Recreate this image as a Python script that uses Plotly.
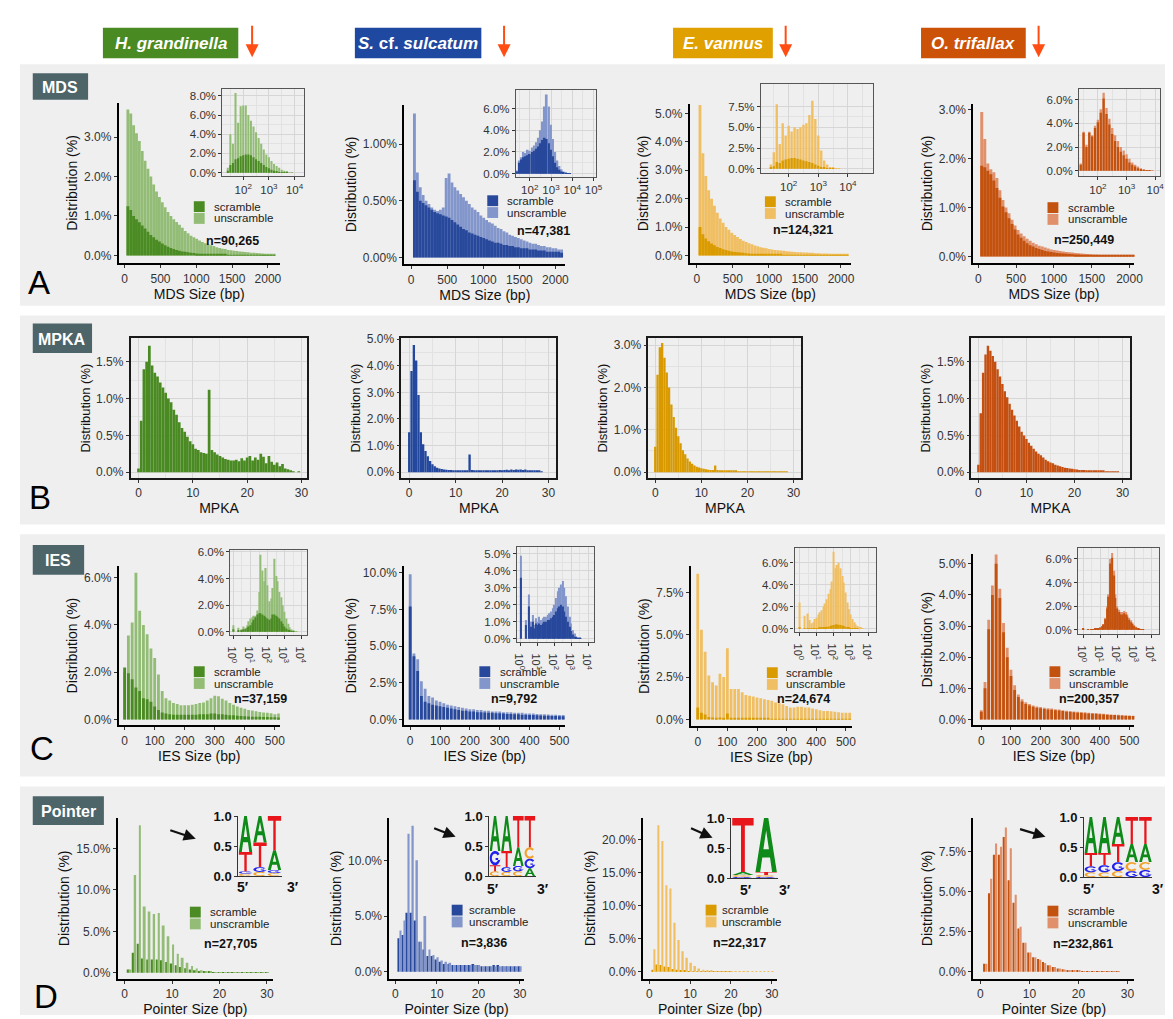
import numpy as np
import plotly.graph_objects as go

W, H = 1173, 1019
FONT = "Liberation Sans, Arial, sans-serif"

# ------------------------------------------------------------------ data
SPECIES = ["<i>H. grandinella</i>", "<i>S.</i> cf. <i>sulcatum</i>", "<i>E. vannus</i>", "<i>O. trifallax</i>"]
HEADER_COLORS = ["#4a8a22", "#1f48a0", "#e0a000", "#cc5208"]
DARK = ["#4b8b23", "#27489b", "#d99b00", "#c4520f"]
LIGHT = ["#93bd77", "#8396cb", "#f0bf63", "#e0906b"]
SOLID = ["#4a8a22", "#22479c", "#d89a00", "#c44f10"]

N_MDS = ["n=90,265", "n=47,381", "n=124,321", "n=250,449"]
N_IES = ["n=37,159", "n=9,792", "n=24,674", "n=200,357"]
N_PTR = ["n=27,705", "n=3,836", "n=22,317", "n=232,861"]

# MDS size histograms (bins of 40 bp starting at 45 bp), % of MDSs
MDS_BIN_START, MDS_BIN_W, MDS_NBINS = 45, 40, 52
MDS_UNS_HG = [3.7,3.6,3.3,3.1,2.9,2.65,2.4,2.2,2.0,1.8,1.62,1.48,1.35,1.22,1.1,1.0,0.92,0.85,0.78,0.7,
              0.62,0.56,0.5,0.46,0.42,0.38,0.34,0.31,0.28,0.26,0.24,0.21,0.19,0.17,0.16,0.14,0.13,0.12,0.11,0.1,
              0.09,0.085,0.08,0.07,0.065,0.06,0.055,0.05,0.045,0.04,0.04,0.035]
MDS_SCR_HG = [1.25,1.15,1.0,0.92,0.84,0.76,0.68,0.6,0.52,0.46,0.4,0.35,0.3,0.26,0.22,0.19,0.16,0.14,0.12,0.1,
              0.09,0.08,0.07,0.06,0.05,0.045,0.04,0.035,0.03,0.03,0.025,0.025,0.02,0.02,0.02,0.015,0.015,0.015,0.01,0.01,
              0.01,0.01,0.01,0.01,0.008,0.008,0.008,0.006,0.006,0.005,0.005,0.005]
MDS_UNS_SC = [1.27,0.75,0.62,0.55,0.5,0.47,0.44,0.42,0.41,0.42,0.44,0.7,0.74,0.66,0.62,0.59,0.56,0.53,0.5,0.47,
              0.44,0.42,0.4,0.37,0.35,0.33,0.31,0.3,0.28,0.26,0.25,0.23,0.22,0.2,0.19,0.18,0.17,0.16,0.15,0.14,
              0.13,0.12,0.12,0.11,0.1,0.1,0.09,0.09,0.08,0.08,0.07,0.07]
MDS_SCR_SC = [0.68,0.58,0.5,0.48,0.46,0.44,0.42,0.4,0.39,0.38,0.37,0.36,0.35,0.33,0.31,0.29,0.27,0.25,0.24,0.22,
              0.21,0.2,0.19,0.18,0.17,0.16,0.15,0.14,0.13,0.13,0.12,0.11,0.11,0.1,0.1,0.09,0.09,0.08,0.08,0.08,
              0.07,0.07,0.07,0.06,0.06,0.06,0.05,0.05,0.05,0.05,0.05,0.04]
MDS_UNS_EV = [5.3,3.6,2.8,2.3,2.0,1.75,1.5,1.3,1.15,1.0,0.9,0.8,0.72,0.65,0.58,0.52,0.47,0.43,0.39,0.35,
              0.32,0.29,0.27,0.25,0.23,0.21,0.19,0.18,0.17,0.16,0.15,0.14,0.13,0.12,0.11,0.11,0.1,0.1,0.09,0.09,
              0.08,0.08,0.07,0.07,0.07,0.06,0.06,0.06,0.05,0.05,0.05,0.05]
MDS_SCR_EV = [1.0,0.75,0.6,0.5,0.42,0.36,0.3,0.26,0.22,0.19,0.16,0.14,0.12,0.11,0.1,0.09,0.08,0.07,0.06,0.055,
              0.05,0.045,0.04,0.04,0.035,0.035,0.03,0.03,0.03,0.025,0.025,0.025,0.02,0.02,0.02,0.02,0.02,0.015,0.015,0.015,
              0.015,0.015,0.01,0.01,0.01,0.01,0.01,0.01,0.01,0.01,0.01,0.01]
MDS_UNS_OT = [2.95,2.4,1.9,1.78,1.72,1.6,1.35,1.15,1.0,0.88,0.75,0.63,0.54,0.47,0.41,0.36,0.32,0.28,0.25,0.22,
              0.2,0.18,0.16,0.14,0.13,0.12,0.11,0.1,0.09,0.085,0.08,0.07,0.065,0.06,0.055,0.05,0.045,0.04,0.04,0.035,
              0.035,0.03,0.03,0.03,0.025,0.025,0.025,0.02,0.02,0.02,0.02,0.02]
MDS_SCR_OT = [1.85,1.82,1.75,1.68,1.55,1.4,1.2,1.02,0.9,0.78,0.66,0.55,0.45,0.38,0.32,0.27,0.23,0.2,0.17,0.15,
              0.13,0.11,0.1,0.09,0.08,0.07,0.065,0.06,0.055,0.05,0.045,0.04,0.04,0.035,0.035,0.03,0.03,0.025,0.025,0.025,
              0.02,0.02,0.02,0.02,0.02,0.015,0.015,0.015,0.015,0.015,0.015,0.015]

# MDS inset: log10(size) bins 1.4 .. 3.9
MDS_LOG_START, MDS_LOG_STEP, MDS_LOG_N = 1.4, 0.1, 26
MDSL_UNS_HG = [0.5,4.0,3.0,8.3,5.2,6.9,7.0,7.0,6.0,5.4,4.8,4.2,3.6,3.0,2.4,1.9,1.6,1.2,0.9,0.7,0.5,0.3,0.2,0.1,0.05,0.02]
MDSL_SCR_HG = [0.2,0.8,1.0,1.4,1.5,1.7,1.8,1.9,1.9,1.8,1.6,1.4,1.2,1.0,0.8,0.6,0.45,0.3,0.2,0.12,0.07,0.04,0.02,0.01,0,0]
MDSL_UNS_SC = [0.3,1.2,1.5,2.0,1.9,2.2,2.1,2.4,2.6,2.9,3.3,4.0,4.8,6.2,7.3,6.2,4.5,3.2,2.0,1.2,0.7,0.4,0.2,0.1,0.05,0.02]
MDSL_SCR_SC = [0.2,1.0,1.3,1.5,1.6,1.7,1.8,2.0,2.1,2.3,2.5,2.8,3.1,3.3,3.2,2.8,2.2,1.6,1.0,0.6,0.35,0.2,0.1,0.05,0.02,0.01]
MDSL_UNS_EV = [0.5,2.0,7.8,3.0,5.5,4.0,5.2,4.5,5.0,4.8,5.0,5.3,5.5,6.5,8.2,6.0,4.0,2.2,1.0,0.5,0.2,0.1,0.05,0.02,0,0]
MDSL_SCR_EV = [0.1,0.3,0.8,0.7,1.0,1.1,1.2,1.3,1.3,1.2,1.1,1.0,0.9,0.8,0.7,0.5,0.35,0.2,0.1,0.05,0.02,0.01,0,0,0,0]
MDSL_UNS_OT = [0.6,3.3,2.2,3.3,3.0,3.8,4.3,5.2,6.6,5.3,4.4,3.6,3.0,2.5,2.0,1.7,1.4,1.0,0.7,0.5,0.35,0.2,0.1,0.05,0.02,0.01]
MDSL_SCR_OT = [0.5,3.2,2.0,3.2,2.9,3.6,4.1,4.9,6.1,4.8,3.9,3.1,2.5,2.0,1.6,1.3,1.0,0.7,0.5,0.35,0.2,0.1,0.05,0.02,0.01,0]

# MPKA histograms (bins of 0.5)
MPKA_STEP, MPKA_N = 0.5, 60
MPKA_HG = [0.05,0.7,1.4,1.5,1.72,1.45,1.35,1.3,1.22,1.15,1.08,1.0,0.95,0.85,0.78,0.68,0.6,0.55,0.48,0.42,
           0.38,0.32,0.3,0.27,0.26,0.25,1.12,0.3,0.27,0.24,0.22,0.2,0.18,0.17,0.16,0.16,0.17,0.15,0.19,0.16,
           0.2,0.22,0.16,0.2,0.17,0.25,0.21,0.12,0.22,0.14,0.1,0.13,0.08,0.11,0.05,0.04,0.02,0.01,0,0.01]
MPKA_SC = [1.5,3.8,4.78,4.2,2.9,1.5,1.05,0.8,0.6,0.42,0.3,0.22,0.17,0.14,0.12,0.1,0.09,0.08,0.08,0.07,
           0.07,0.06,0.06,0.06,0.06,0.05,0.66,0.08,0.06,0.05,0.05,0.05,0.05,0.05,0.05,0.06,0.05,0.07,0.06,0.08,
           0.07,0.08,0.09,0.07,0.1,0.08,0.1,0.09,0.1,0.08,0.1,0.06,0.07,0.05,0.06,0.04,0.05,0.03,0,0]
MPKA_EV = [0.6,2.3,2.95,3.05,2.7,2.35,2.0,1.6,1.3,1.05,0.85,0.68,0.52,0.42,0.32,0.25,0.2,0.16,0.13,0.11,
           0.09,0.08,0.07,0.06,0.05,0.05,0.16,0.05,0.04,0.04,0.035,0.03,0.03,0.03,0.025,0.025,0.02,0.02,0.02,0.02,
           0.02,0.02,0.015,0.015,0.015,0.015,0.015,0.01,0.015,0.01,0.01,0.01,0.01,0.01,0.01,0.01,0.01,0.01,0,0]
MPKA_OT = [0.1,0.8,1.35,1.6,1.72,1.65,1.58,1.5,1.4,1.3,1.2,1.1,1.02,0.93,0.85,0.77,0.7,0.62,0.55,0.5,
           0.45,0.4,0.36,0.32,0.28,0.25,0.23,0.2,0.17,0.15,0.13,0.12,0.1,0.09,0.08,0.07,0.06,0.055,0.05,0.045,
           0.04,0.035,0.03,0.03,0.03,0.025,0.025,0.02,0.02,0.02,0.02,0.015,0.015,0.01,0.01,0.01,0.01,0.01,0.01,0]

# IES size histograms (bins of 12.5 bp)
IES_STEP, IES_N = 12.5, 42
IES_UNS_HG = [2.0,3.55,4.1,6.2,4.6,4.0,3.6,3.0,2.6,1.9,1.2,0.9,0.8,0.7,0.65,0.6,0.6,0.6,0.62,0.65,
              0.7,0.72,0.8,0.9,1.0,0.98,0.88,0.8,0.7,0.62,0.55,0.5,0.45,0.4,0.38,0.35,0.32,0.3,0.28,0.26,0.22,0.25]
IES_SCR_HG = [2.2,1.95,1.7,1.35,1.2,0.9,0.85,0.75,0.55,0.4,0.3,0.25,0.22,0.2,0.2,0.2,0.2,0.2,0.2,0.2,
              0.22,0.22,0.22,0.25,0.25,0.22,0.22,0.2,0.18,0.18,0.16,0.15,0.14,0.13,0.12,0.12,0.11,0.1,0.1,0.09,0.09,0.08]
IES_UNS_SC = [9.9,4.5,4.1,2.6,2.1,1.6,1.5,1.3,1.2,1.1,1.0,0.95,0.9,0.85,0.8,0.75,0.7,0.7,0.65,0.65,
              0.6,0.6,0.55,0.55,0.55,0.5,0.5,0.5,0.45,0.45,0.45,0.4,0.4,0.4,0.38,0.36,0.35,0.34,0.33,0.32,0.3,0.3]
IES_SCR_SC = [7.7,4.3,3.3,1.6,1.2,1.1,1.0,0.95,0.9,0.85,0.8,0.75,0.7,0.65,0.6,0.6,0.55,0.55,0.5,0.5,
              0.48,0.46,0.45,0.43,0.42,0.4,0.38,0.37,0.36,0.35,0.33,0.32,0.3,0.3,0.28,0.27,0.26,0.25,0.24,0.23,0.22,0.22]
IES_UNS_EV = [8.6,5.3,4.0,2.6,2.2,2.0,2.7,2.5,4.2,1.8,1.8,1.8,1.6,1.45,1.4,1.35,1.3,1.25,1.2,1.15,
              1.1,1.0,0.95,0.9,0.8,0.7,0.7,0.75,0.75,0.7,0.7,0.65,0.6,0.55,0.5,0.5,0.48,0.45,0.42,0.4,0.4,0.4]
IES_SCR_EV = [0.7,0.4,0.3,0.15,0.12,0.1,0.12,0.1,0.35,0.08,0.07,0.07,0.06,0.06,0.06,0.05,0.05,0.05,0.05,0.05,
              0.04,0.04,0.04,0.04,0.04,0.04,0.04,0.03,0.03,0.03,0.03,0.03,0.03,0.03,0.03,0.03,0.03,0.03,0.03,0.03,0.03,0.03]
IES_UNS_OT = [0.3,1.2,3.2,4.3,5.3,4.2,3.1,2.3,1.6,1.1,0.8,0.65,0.55,0.5,0.45,0.42,0.4,0.38,0.36,0.35,
              0.33,0.32,0.3,0.28,0.27,0.26,0.25,0.24,0.23,0.22,0.21,0.2,0.19,0.18,0.17,0.16,0.15,0.15,0.14,0.13,0.13,0.12]
IES_SCR_OT = [0.25,1.0,2.9,4.0,5.0,3.9,2.8,2.0,1.4,0.95,0.72,0.58,0.5,0.45,0.41,0.38,0.36,0.34,0.32,0.31,
              0.3,0.29,0.27,0.25,0.24,0.23,0.22,0.21,0.2,0.19,0.18,0.18,0.17,0.16,0.15,0.14,0.14,0.13,0.12,0.12,0.11,0.11]

# IES inset: log10(size) bins 0.0 .. 4.0
IES_LOG_STEP, IES_LOG_N = 0.1, 41
IESL_UNS_HG = [0.5,0,0,0.3,0,0.2,0.4,0.3,0.5,0.8,1.0,1.1,1.2,1.2,1.6,3.0,5.8,4.6,3.8,4.8,
               3.5,2.3,2.5,3.3,5.5,4.2,3.8,3.0,2.6,2.0,1.5,1.0,0.6,0.35,0.2,0.1,0.05,0.02,0,0,0]
IESL_SCR_HG = [0.2,0,0,0.1,0,0.1,0.2,0.2,0.3,0.4,0.5,0.7,0.9,1.1,1.3,1.4,1.4,1.3,1.2,1.1,
               1.0,0.9,1.0,1.3,1.3,1.2,1.1,1.0,0.8,0.6,0.4,0.25,0.15,0.08,0.04,0.02,0,0,0,0,0]
IESL_UNS_SC = [4.9,0,0,1.1,0,2.6,1.0,1.4,0.8,1.2,1.0,1.3,1.1,1.2,1.3,1.3,1.4,1.5,1.6,1.8,
               2.0,2.4,2.8,3.0,3.2,3.4,3.0,2.5,1.9,1.3,0.9,0.5,0.3,0.15,0.08,0.04,0.02,0,0,0,0]
IESL_SCR_SC = [3.6,0,0,0.8,0,1.9,0.7,1.0,0.6,0.9,0.8,0.9,0.8,0.9,1.0,1.0,1.1,1.1,1.2,1.3,
               1.4,1.6,1.8,1.9,2.0,1.9,1.6,1.3,1.0,0.7,0.45,0.25,0.12,0.06,0.03,0.01,0,0,0,0,0]
IESL_UNS_EV = [2.4,0,0,1.2,0,1.4,0.8,0.5,0.6,0.9,1.0,1.3,1.5,1.7,2.0,2.3,2.7,3.2,3.6,4.3,
               7.0,5.5,5.8,6.0,5.5,4.8,4.2,3.3,2.4,1.8,1.3,0.9,0.6,0.4,0.25,0.15,0.08,0.04,0,0,0]
IESL_SCR_EV = [0.15,0,0,0.05,0,0.05,0.05,0.05,0.05,0.05,0.05,0.05,0.08,0.1,0.12,0.15,0.18,0.2,0.25,0.3,
               0.35,0.4,0.4,0.38,0.35,0.3,0.25,0.2,0.15,0.1,0.07,0.05,0.03,0.02,0.01,0,0,0,0,0,0]
IESL_UNS_OT = [0.1,0,0,0.05,0,0.05,0.05,0.1,0.1,0.15,0.2,0.3,0.5,1.0,2.0,3.0,6.0,6.5,5.0,3.0,
               2.0,1.7,1.5,1.5,1.6,1.5,1.3,1.0,0.8,0.6,0.4,0.25,0.15,0.08,0.04,0.02,0,0,0,0,0]
IESL_SCR_OT = [0.1,0,0,0.05,0,0.05,0.05,0.1,0.1,0.15,0.2,0.3,0.45,0.9,1.8,2.8,5.6,6.1,4.6,2.7,
               1.8,1.5,1.3,1.3,1.4,1.3,1.1,0.85,0.65,0.5,0.33,0.2,0.12,0.06,0.03,0.01,0,0,0,0,0]

# Pointer size histograms (1..30 bp)
PTR_SIZES = list(range(1, 31))
PTR_UNS_HG = [0.4,11.8,17.8,8.0,7.4,7.1,7.2,5.7,4.4,3.4,2.3,1.8,1.2,0.8,0.5,0.3,0.2,0.12,0.08,0.06,
              0.05,0.04,0.03,0.03,0.02,0.02,0.02,0.02,0.01,0.01]
PTR_SCR_HG = [0.4,2.4,3.5,1.7,1.6,1.6,1.6,1.5,1.3,1.1,0.9,0.7,0.55,0.4,0.3,0.2,0.15,0.1,0.07,0.05,
              0.04,0.03,0.03,0.02,0.02,0.02,0.01,0.01,0.01,0.01]
PTR_UNS_SC = [3.7,4.6,12.4,13.1,10.0,2.7,5.0,2.0,1.5,1.3,1.0,0.9,0.8,0.6,0.6,0.6,0.6,0.6,0.6,0.6,
              0.5,0.5,0.5,0.5,0.5,0.5,0.5,0.5,0.5,0.5]
PTR_SCR_SC = [3.0,3.3,5.3,5.3,4.6,2.7,2.0,1.4,1.4,1.1,0.9,0.7,0.7,0.6,0.6,0.6,0.6,0.6,0.7,0.6,
              0.5,0.5,0.5,0.6,0.6,0.5,0.5,0.5,0.5,0.5]
PTR_UNS_EV = [3.4,22.2,19.8,13.1,12.6,7.4,4.8,3.1,2.1,1.35,0.85,0.5,0.3,0.2,0.15,0.1,0.06,0.05,0.04,0.03,
              0.02,0.02,0.02,0.02,0.02,0.02,0.02,0.02,0.02,0.02]
PTR_SCR_EV = [0.3,1.1,1.0,0.8,0.7,0.4,0.3,0.2,0.15,0.1,0.07,0.05,0.03,0.02,0.02,0.01,0.01,0.01,0.01,0.01,
              0,0,0,0,0,0,0,0,0,0]
PTR_UNS_OT = [0.5,5.8,8.0,7.8,9.0,7.7,4.8,2.8,1.8,1.2,0.9,0.75,0.55,0.4,0.3,0.2,0.14,0.1,0.07,0.05,
              0.04,0.03,0.02,0.02,0.015,0.01,0.01,0.01,0,0]
PTR_SCR_OT = [0.5,4.9,7.3,7.3,8.4,5.7,4.3,2.7,1.8,1.2,0.9,0.8,0.6,0.4,0.3,0.2,0.15,0.1,0.08,0.06,
              0.04,0.03,0.02,0.02,0.015,0.01,0.01,0.01,0,0]

# Sequence-logo probabilities per position
LOGO_HG = dict(A=[0.60,0.44,0.33], T=[0.32,0.41,0.57], G=[0.04,0.08,0.05], C=[0.04,0.07,0.05])
LOGO_SC = dict(A=[0.58,0.58,0.31,0.13], T=[0.10,0.27,0.52,0.52], G=[0.24,0.08,0.09,0.16], C=[0.08,0.07,0.08,0.19])
LOGO_EV = dict(A=[0.05,0.90], T=[0.90,0.05], G=[0.02,0.02], C=[0.03,0.03])
LOGO_OT = dict(A=[0.60,0.60,0.45,0.30,0.30], T=[0.22,0.20,0.30,0.45,0.45],
               G=[0.10,0.12,0.15,0.10,0.12], C=[0.08,0.08,0.10,0.15,0.13])
BASE_COLORS = dict(A="#0d8a17", T="#e8151b", G="#2222ee", C="#f2a22a")

MDS_UNS = [MDS_UNS_HG, MDS_UNS_SC, MDS_UNS_EV, MDS_UNS_OT]
MDS_SCR = [MDS_SCR_HG, MDS_SCR_SC, MDS_SCR_EV, MDS_SCR_OT]
MDSL_UNS = [MDSL_UNS_HG, MDSL_UNS_SC, MDSL_UNS_EV, MDSL_UNS_OT]
MDSL_SCR = [MDSL_SCR_HG, MDSL_SCR_SC, MDSL_SCR_EV, MDSL_SCR_OT]
MPKA = [MPKA_HG, MPKA_SC, MPKA_EV, MPKA_OT]
IES_UNS = [IES_UNS_HG, IES_UNS_SC, IES_UNS_EV, IES_UNS_OT]
IES_SCR = [IES_SCR_HG, IES_SCR_SC, IES_SCR_EV, IES_SCR_OT]
IESL_UNS = [IESL_UNS_HG, IESL_UNS_SC, IESL_UNS_EV, IESL_UNS_OT]
IESL_SCR = [IESL_SCR_HG, IESL_SCR_SC, IESL_SCR_EV, IESL_SCR_OT]
PTR_UNS = [PTR_UNS_HG, PTR_UNS_SC, PTR_UNS_EV, PTR_UNS_OT]
PTR_SCR = [PTR_SCR_HG, PTR_SCR_SC, PTR_SCR_EV, PTR_SCR_OT]
LOGOS = [LOGO_HG, LOGO_SC, LOGO_EV, LOGO_OT]

MDS_X = MDS_BIN_START + MDS_BIN_W * np.arange(MDS_NBINS)
MDSL_X = np.round(MDS_LOG_START + MDS_LOG_STEP * np.arange(MDS_LOG_N), 2)
MPKA_X = MPKA_STEP * np.arange(MPKA_N)
IES_X = IES_STEP * np.arange(IES_N)
IESL_X = np.round(IES_LOG_STEP * np.arange(IES_LOG_N), 2)

# ------------------------------------------------------------------ layout geometry (pixels)
def cal(p_lo, p_hi, p1, v1, p2, v2):
    s = (v2 - v1) / (p2 - p1)
    return [v1 + (p_lo - p1) * s, v1 + (p_hi - p1) * s]

MDS_MAIN = [
    dict(box=(107, 270, 89, 252), xc=(113, 0, 258, 2000), yc=(244, 0, 124, 3), yt=[0, 1, 2, 3], f="{:.1f}%"),
    dict(box=(396, 559, 91, 253), xc=(403, 0, 549, 2000), yc=(246, 0, 131, 1.0), yt=[0, 0.5, 1.0], f="{:.2f}%"),
    dict(box=(685, 848, 90, 252), xc=(692, 0, 838, 2000), yc=(244, 0, 100, 5), yt=[0, 1, 2, 3, 4, 5], f="{:.1f}%"),
    dict(box=(972, 1135, 90, 252), xc=(977, 0, 1130, 2000), yc=(245, 0, 96, 3), yt=[0, 1, 2, 3], f="{:.1f}%"),
]
MDS_INSET = [
    dict(box=(212, 295, 75, 163), xc=(233, 2, 259, 3), yc=(160, 0, 82, 8), yt=[0, 2, 4, 6, 8], xt=[2, 3, 4]),
    dict(box=(509, 590, 76, 164), xc=(523, 2, 544.5, 3), yc=(161, 0, 95, 6), yt=[0, 2, 4, 6], xt=[2, 3, 4, 5]),
    dict(box=(757, 870, 70, 160), xc=(785, 2, 815, 3), yc=(156, 0, 93, 7.5), yt=[0, 2.5, 5, 7.5], xt=[2, 3, 4]),
    dict(box=(1079, 1161, 75, 163), xc=(1098, 2, 1156, 4), yc=(158, 0, 86, 6), yt=[0, 2, 4, 6], xt=[2, 3, 4]),
]
MPKA_G = [
    dict(box=(119, 298, 328, 470), xc=(127, 0, 292, 30), yc=(464, 0, 352, 1.5), yt=[0, 0.5, 1.0, 1.5]),
    dict(box=(393, 550, 328, 470), xc=(401, 0, 542, 30), yc=(464, 0, 329, 5), yt=[0, 1, 2, 3, 4, 5]),
    dict(box=(643, 798, 328, 470), xc=(650, 0, 790, 30), yc=(464, 0, 335, 3), yt=[0, 1, 2, 3]),
    dict(box=(970, 1130, 328, 470), xc=(977, 0, 1123, 30), yc=(464, 0, 352, 1.5), yt=[0, 0.5, 1.0, 1.5]),
]
IES_MAIN = [
    dict(box=(107, 270, 559, 721), xc=(113, 0, 265, 500), yc=(715, 0, 571, 6), yt=[0, 2, 4, 6]),
    dict(box=(396, 559, 559, 721), xc=(402, 0, 553, 500), yc=(715, 0, 566, 10), yt=[0, 2.5, 5, 7.5, 10]),
    dict(box=(686, 849, 559, 722), xc=(693, 0, 843, 500), yc=(715, 0, 586, 7.5), yt=[0, 2.5, 5, 7.5]),
    dict(box=(972, 1135, 547, 721), xc=(980, 0, 1130, 500), yc=(715, 0, 557, 5), yt=[0, 1, 2, 3, 4, 5]),
]
IES_INSET = [
    dict(box=(220, 298, 543, 629), xc=(223, 0, 275, 3), yc=(626, 0, 545, 6), yt=[0, 2, 4, 6]),
    dict(box=(510, 588, 540, 636), xc=(514, 0, 565, 3), yc=(633, 0, 547, 5), yt=[0, 1, 2, 3, 4, 5]),
    dict(box=(791, 873, 541, 626), xc=(796, 0, 848, 3), yc=(623, 0, 556, 6), yt=[0, 2, 4, 6]),
    dict(box=(1078, 1160, 541, 628), xc=(1083, 0, 1135, 3), yc=(624, 0, 552, 6), yt=[0, 2, 4, 6]),
]
PTR_MAIN = [
    dict(box=(106, 263, 815, 978), xc=(113, 0, 257, 30), yc=(972, 0, 846, 15), yt=[0, 5, 10, 15]),
    dict(box=(381, 517, 815, 978), xc=(387, 0, 513, 30), yc=(971, 0, 858, 10), yt=[0, 5, 10]),
    dict(box=(638, 773, 815, 978), xc=(644, 0, 768, 30), yc=(971, 0, 837, 20), yt=[0, 5, 10, 15, 20]),
    dict(box=(972, 1135, 815, 978), xc=(979, 0, 1128, 30), yc=(971, 0, 849, 7.5), yt=[0, 2.5, 5, 7.5]),
]
LOGO_G = [
    dict(box=(228, 272, 813, 874), p5=(233, 885), p3=(283, 885), arrow=((158, 827), (185, 836))),
    dict(box=(482, 529, 813, 874), p5=(486, 887), p3=(536, 887), arrow=((425, 825), (448, 834))),
    dict(box=(727, 774, 815, 876), p5=(742, 888), p3=(781, 888), arrow=((685, 825), (708, 835))),
    dict(box=(1084, 1153, 814, 875), p5=(1089, 887), p3=(1159, 887), arrow=((1018, 826), (1045, 834))),
]
LEG_A = [(183, 189, 202, 222, 229), (480, 183, 499, 537, 219), (761, 184, 780, 800, 218), (1047, 190, 1067, 1084, 228)]
LEG_C = [(183, 661, 202, 250, 694), (472, 661, 492, 507, 694), (763, 662, 781, 800, 694), (1049, 661, 1068, 1089, 694)]
LEG_D = [(179, 905, 198, 220, 943), (444, 903, 460, 477, 942), (701, 903, 717, 735, 942), (1047, 904, 1067, 1083, 943)]

# ------------------------------------------------------------------ builders
fig = go.Figure()
layout = {}
shapes = []
annotations = []
counter = [0]


def new_axes(g, xstyle, ystyle):
    counter[0] += 1
    n = counter[0]
    xs = "x" if n == 1 else f"x{n}"
    ys = "y" if n == 1 else f"y{n}"
    x0, x1, top, bot = g["box"]
    xr = cal(x0, x1, *g["xc"])
    yr = cal(bot, top, *g["yc"])
    layout["xaxis" if n == 1 else f"xaxis{n}"] = dict(domain=[x0 / W, x1 / W], range=xr, anchor=ys, **xstyle)
    layout["yaxis" if n == 1 else f"yaxis{n}"] = dict(domain=[1 - bot / H, 1 - top / H], range=yr, anchor=xs, **ystyle)
    return xs, ys


def classic(tickvals, ticktext, title, tsize=14):
    return dict(showline=True, linecolor="black", linewidth=2, ticks="outside", ticklen=3, tickwidth=1,
                tickcolor="#333", showgrid=False, zeroline=False, tickmode="array", tickvals=tickvals,
                ticktext=ticktext, tickfont=dict(size=12, color="#333"),
                title=dict(text=title, font=dict(size=tsize, color="#111"), standoff=3))


def boxed(tickvals, ticktext, minor, title=None, tsize=13, fsize=12, lc="#1a1a1a", lw=1.5, standoff=3):
    d = dict(showline=True, mirror=True, linecolor=lc, linewidth=lw, ticks="outside", ticklen=3, tickwidth=1,
             tickcolor="#333", showgrid=True, gridcolor="#d6d6d6", gridwidth=1, zeroline=False,
             tickmode="array", tickvals=tickvals, ticktext=ticktext, tickfont=dict(size=fsize, color="#333"),
             minor=dict(tickmode="array", tickvals=minor, showgrid=True, gridcolor="#e2e2e2", gridwidth=0.8, ticks=""))
    if title:
        d["title"] = dict(text=title, font=dict(size=tsize, color="#111"), standoff=standoff)
    return d


def pct(vals, f="{:.1f}%"):
    return [f.format(v) for v in vals]


def mids(vals):
    return [(a + b) / 2 for a, b in zip(vals[:-1], vals[1:])]


def bar(xs, ys, x, y, width, color, offset=None):
    kw = dict(x=x, y=y, width=width, marker=dict(color=color, line=dict(width=0)),
              xaxis=xs, yaxis=ys, hoverinfo="skip", showlegend=False)
    if offset is not None:
        kw["offset"] = offset
    fig.add_trace(go.Bar(**kw))


def ann(x, y, text, size=12, color="#222", xanchor="center", yanchor="middle"):
    annotations.append(dict(x=x / W, y=1 - y / H, xref="paper", yref="paper", text=text, showarrow=False,
                            font=dict(size=size, color=color, family=FONT), xanchor=xanchor, yanchor=yanchor,
                            borderpad=0))


def rect(x0, y0, x1, y1, color, layer="below"):
    shapes.append(dict(type="rect", xref="paper", yref="paper", x0=x0 / W, x1=x1 / W, y0=1 - y1 / H, y1=1 - y0 / H,
                       fillcolor=color, line=dict(width=0), layer=layer))


def legend(c, spec, ntext):
    sx, st, tx, nx, ny = spec
    rect(sx, st, sx + 11, st + 11, DARK[c], "above")
    rect(sx, st + 12, sx + 11, st + 23, LIGHT[c], "above")
    ann(tx, st + 5.5, "scramble", 11.5, xanchor="left")
    ann(tx, st + 17.5, "unscramble", 11.5, xanchor="left")
    ann(nx, ny, f"<b>{ntext}</b>", 12.5, "#111")


def arc(cx, cy, rx, ry, a0, a1, n=22):
    t = np.radians(np.linspace(a0, a1, n))
    return list(zip(cx + rx * np.cos(t), cy + ry * np.sin(t)))


GLYPHS = {
    "A": [[(0, 0), (0.4, 1), (0.6, 1), (1, 0), (0.78, 0), (0.68, 0.27), (0.32, 0.27), (0.22, 0)],
          [(0.37, 0.42), (0.63, 0.42), (0.5, 0.77)]],
    "T": [[(0, 1), (1, 1), (1, 0.86), (0.59, 0.86), (0.59, 0), (0.41, 0), (0.41, 0.86), (0, 0.86)]],
    "C": [arc(0.5, 0.5, 0.5, 0.5, 40, 320) + arc(0.5, 0.5, 0.3, 0.31, 320, 40)],
    "G": [arc(0.5, 0.5, 0.5, 0.5, 35, 360) + arc(0.5, 0.5, 0.3, 0.31, 360, 35),
          [(0.55, 0.36), (1.0, 0.36), (1.0, 0.5), (0.55, 0.5)]],
}


def glyph_path(letter, x0, x1, y0, y1):
    parts = []
    for poly in GLYPHS[letter]:
        pts = [f"{x0 + u * (x1 - x0):.4f},{y0 + v * (y1 - y0):.5f}" for u, v in poly]
        parts.append("M" + " L".join(pts) + " Z")
    return " ".join(parts)


# ------------------------------------------------------------------ background panels, labels
for (y0, y1) in [(50, 295), (305, 517), (527, 773), (783, 1015)]:
    rect(7, y0, 1166, y1, "#efefef")

for label, (x0, y0, x1, y1) in [("MDS", (20, 59, 76, 86)), ("MPKA", (20, 313, 80, 343)),
                                ("IES", (20, 538, 72, 568)), ("Pointer", (20, 793, 92, 822))]:
    rect(x0, y0, x1, y1, "#4d6469", "above")
    ann((x0 + x1) / 2, (y0 + y1) / 2 + 1, f"<b>{label}</b>", 16, "white")

for letter, (x, y) in zip("ABCD", [(26, 271), (27, 490), (29, 744), (33, 996)]):
    ann(x, y, letter, 33, "#000")

HEADER_BOX = [(91, 228), (346, 474), (668, 769), (919, 1025)]
HEADER_ARROW = [242, 497, 782, 1038]
for c in range(4):
    hx0, hx1 = HEADER_BOX[c]
    rect(hx0, 13, hx1, 44, HEADER_COLORS[c], "above")
    ann((hx0 + hx1) / 2, 29, f"<b>{SPECIES[c]}</b>", 17, "white")
    annotations.append(dict(x=HEADER_ARROW[c] / W, y=1 - 43 / H, xref="paper", yref="paper", text="",
                            showarrow=True, ax=0, ay=-33, arrowhead=2, arrowsize=1.3, arrowwidth=2,
                            arrowcolor="#ff4d14"))

# ------------------------------------------------------------------ Row A: MDS
for c in range(4):
    g = MDS_MAIN[c]
    xs, ys = new_axes(g, classic([0, 500, 1000, 1500, 2000], ["0", "500", "1000", "1500", "2000"], "MDS Size (bp)"),
                      classic(g["yt"], pct(g["yt"], g["f"]), "Distribution (%)"))
    bar(xs, ys, MDS_X, MDS_UNS[c], MDS_BIN_W, LIGHT[c])
    bar(xs, ys, MDS_X, MDS_SCR[c], MDS_BIN_W, DARK[c])
    gi = MDS_INSET[c]
    xt = gi["xt"]
    xs, ys = new_axes(gi, boxed(xt, [f"10<sup>{v}</sup>" for v in xt], [v + 0.5 for v in [1] + xt], fsize=11.5,
                                lc="#555", lw=1.2),
                      boxed(gi["yt"], pct(gi["yt"]), mids(gi["yt"]), fsize=11.5, lc="#555", lw=1.2))
    bar(xs, ys, MDSL_X, MDSL_UNS[c], 0.08, LIGHT[c])
    bar(xs, ys, MDSL_X, MDSL_SCR[c], 0.08, DARK[c])
    legend(c, LEG_A[c], N_MDS[c])

# ------------------------------------------------------------------ Row B: MPKA
for c in range(4):
    g = MPKA_G[c]
    xs, ys = new_axes(g, boxed([0, 10, 20, 30], ["0", "10", "20", "30"], [5, 15, 25], "MPKA", 14, standoff=0),
                      boxed(g["yt"], pct(g["yt"]), mids(g["yt"]), "Distribution (%)", 13))
    bar(xs, ys, MPKA_X, MPKA[c], MPKA_STEP, SOLID[c])

# ------------------------------------------------------------------ Row C: IES
for c in range(4):
    g = IES_MAIN[c]
    xs, ys = new_axes(g, classic([0, 100, 200, 300, 400, 500], ["0", "100", "200", "300", "400", "500"],
                                 "IES Size (bp)"),
                      classic(g["yt"], pct(g["yt"]), "Distribution (%)"))
    bar(xs, ys, IES_X, IES_UNS[c], 9.5, LIGHT[c])
    bar(xs, ys, IES_X, IES_SCR[c], 9.5, DARK[c])
    gi = IES_INSET[c]
    xt = [0, 1, 2, 3, 4]
    xs, ys = new_axes(gi, boxed(xt, [f"10<sup>{v}</sup>" for v in xt], [0.5, 1.5, 2.5, 3.5], fsize=11,
                                lc="#555", lw=1.2),
                      boxed(gi["yt"], pct(gi["yt"]), mids(gi["yt"]), fsize=11.5, lc="#555", lw=1.2))
    bar(xs, ys, IESL_X, IESL_UNS[c], 0.075, LIGHT[c])
    bar(xs, ys, IESL_X, IESL_SCR[c], 0.075, DARK[c])
    legend(c, LEG_C[c], N_IES[c])

# ------------------------------------------------------------------ Row D: Pointer + logos
for c in range(4):
    g = PTR_MAIN[c]
    xs, ys = new_axes(g, classic([0, 10, 20, 30], ["0", "10", "20", "30"], "Pointer Size (bp)"),
                      classic(g["yt"], pct(g["yt"]), "Distribution (%)"))
    bar(xs, ys, PTR_SIZES, PTR_SCR[c], 0.42, DARK[c], offset=-0.44)
    bar(xs, ys, PTR_SIZES, PTR_UNS[c], 0.42, LIGHT[c], offset=0.0)
    legend(c, LEG_D[c], N_PTR[c])

    lg = LOGO_G[c]
    logo = LOGOS[c]
    npos = len(logo["A"])
    x0, x1, top, bot = lg["box"]
    counter[0] += 1
    n = counter[0]
    lxs, lys = f"x{n}", f"y{n}"
    layout[f"xaxis{n}"] = dict(domain=[x0 / W, x1 / W], range=[0.5, npos + 0.5], anchor=lys, showline=True,
                               linecolor="#333", linewidth=1, showticklabels=False, ticks="", showgrid=False,
                               zeroline=False)
    layout[f"yaxis{n}"] = dict(domain=[1 - bot / H, 1 - top / H], range=[0, 1.0], anchor=lxs, showline=True,
                               linecolor="#333", linewidth=1, ticks="outside", ticklen=3, tickcolor="#333",
                               tickmode="array", tickvals=[0, 0.5, 1.0],
                               ticktext=["<b>0.0</b>", "<b>0.5</b>", "<b>1.0</b>"],
                               tickfont=dict(size=13, color="#111"), showgrid=False, zeroline=False)
    fig.add_trace(go.Scatter(x=[1], y=[0], mode="markers", marker=dict(opacity=0), xaxis=lxs, yaxis=lys,
                             hoverinfo="skip", showlegend=False))
    for p in range(npos):
        stack = sorted(((logo[b][p], b) for b in "ACGT"), key=lambda t: t[0])
        ybase = 0.0
        for h, b in stack:
            if h > 0:
                shapes.append(dict(type="path", xref=lxs, yref=lys,
                                   path=glyph_path(b, p + 1 - 0.46, p + 1 + 0.46, ybase, ybase + h),
                                   fillcolor=BASE_COLORS[b], line=dict(width=0), layer="above"))
            ybase += h
    ann(lg["p5"][0], lg["p5"][1], "<b>5′</b>", 14, "#111")
    ann(lg["p3"][0], lg["p3"][1], "<b>3′</b>", 14, "#111")
    (tx, ty), (hx, hy) = lg["arrow"]
    annotations.append(dict(x=hx / W, y=1 - hy / H, xref="paper", yref="paper", text="", showarrow=True,
                            ax=tx - hx, ay=ty - hy, arrowhead=2, arrowsize=1.1, arrowwidth=2.2, arrowcolor="#111"))

fig.update_layout(**layout)
fig.update_layout(width=W, height=H, margin=dict(l=0, r=0, t=0, b=0), paper_bgcolor="white",
                  plot_bgcolor="rgba(0,0,0,0)", barmode="overlay", showlegend=False,
                  font=dict(family=FONT, color="#222"), shapes=shapes, annotations=annotations)
fig.write_html("out.html")
